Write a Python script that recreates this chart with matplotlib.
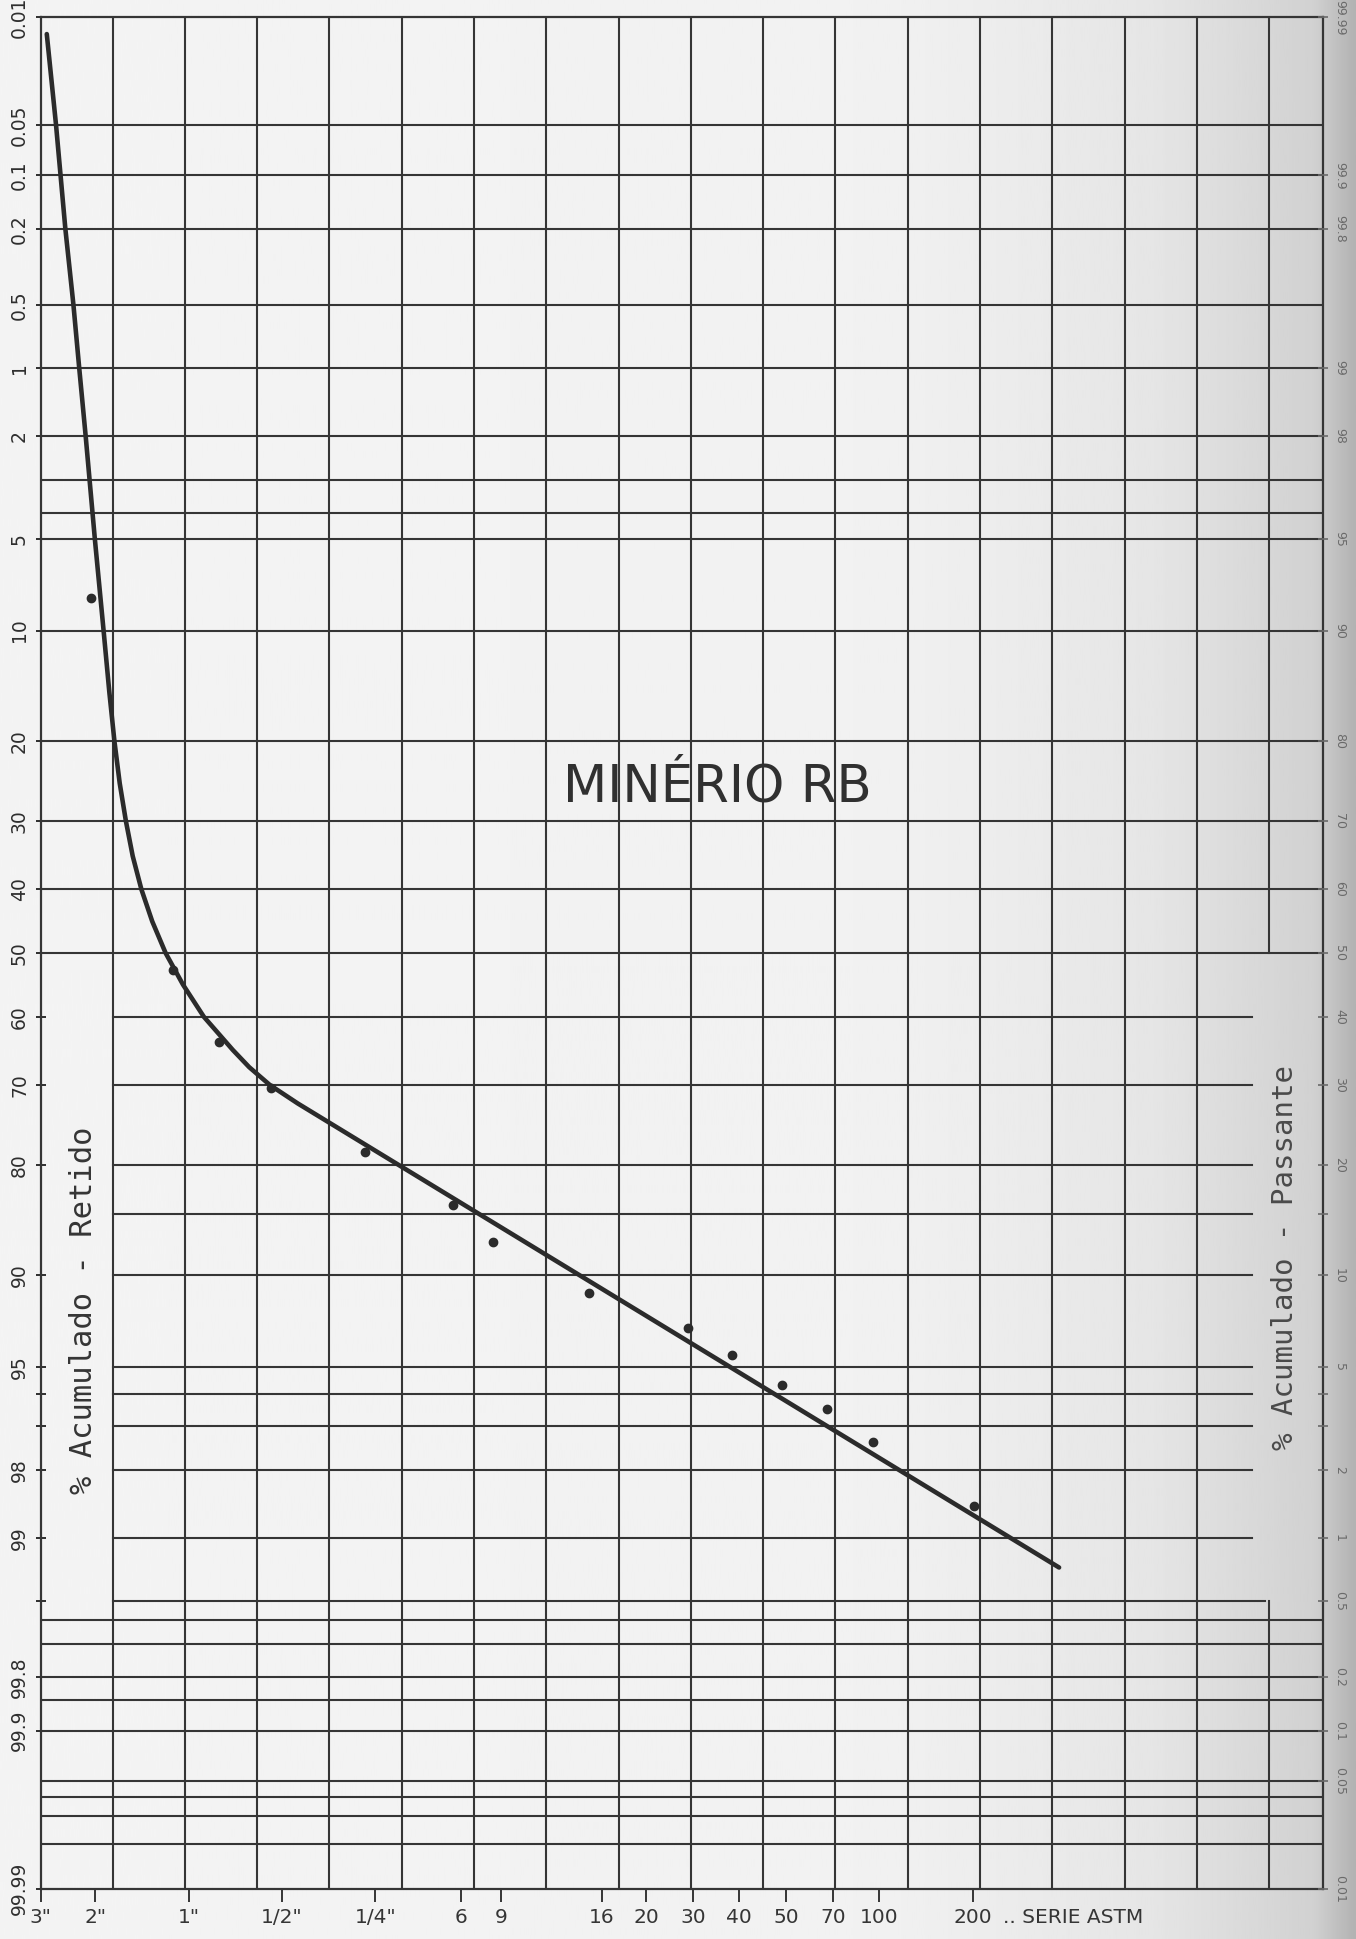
import numpy as np
import matplotlib
matplotlib.use('Agg')
import matplotlib.pyplot as plt
import matplotlib.transforms as mtransforms
from matplotlib.ticker import FixedLocator, NullLocator
from statistics import NormalDist

plt.rcParams['font.family'] = ['DejaVu Sans']
cor = '#353535'
normal = NormalDist()

# ---- peneiras (abertura em mm) ----
peneiras = ['3"', '2"', '1"', '1/2"', '1/4"', '6', '9', '16', '20', '30', '40', '50', '70', '100', '200']
abertura_mm = [76.2, 50.8, 25.4, 12.7, 6.35, 3.35, 2.5, 1.18, 0.85, 0.6, 0.425, 0.3, 0.212, 0.15, 0.075]

# ---- pontos do ensaio (% acumulado retido) ----
pontos_mm = [52.3, 28.6, 20.3, 13.8, 6.83, 3.56, 2.64, 1.30, 0.623, 0.447, 0.310, 0.221, 0.157, 0.0745]
pontos_retido = [7.9, 52.7, 63.8, 70.4, 78.6, 84.2, 87.5, 91.2, 93.2, 94.5, 95.7, 96.5, 97.4, 98.6]

# ---- curva tracada ----
curva_mm = [72.9, 68.05, 63.5, 59.8, 57.3, 54.6, 51.0, 47.8, 45.8, 44.1, 42.4, 40.5, 38.5, 36.1,
            33.3, 30.15, 26.5, 22.7, 18.3, 16.2, 13.9, 11.3, 0.0395]
curva_retido = [0.013, 0.05, 0.2, 0.5, 1, 2, 5, 10, 15, 20, 25, 30, 35, 40,
                45, 50, 55, 60, 65, 67.5, 70, 72.5, 99.27]

# ---- papel de probabilidade ----
rotulos_retido = [0.01, 0.05, 0.1, 0.2, 0.5, 1, 2, 5, 10, 20, 30, 40, 50, 60, 70, 80, 90, 95, 98, 99, 99.8, 99.9, 99.99]
textos_retido = ['0.01', '0.05', '0.1', '0.2', '0.5', '1', '2', '5', '10', '20', '30', '40', '50',
                 '60', '70', '80', '90', '95', '98', '99', '99.8', '99.9', '99.99']
rotulos_passante = [0.01, 0.1, 0.2, 1, 2, 5, 10, 20, 30, 40, 50, 60, 70, 80, 90, 95, 98, 99, 99.5, 99.8, 99.9, 99.95, 99.99]
textos_passante = ['99.99', '99.9', '99.8', '99', '98', '95', '90', '80', '70', '60', '50', '40', '30',
                   '20', '10', '5', '2', '1', '0.5', '0.2', '0.1', '0.05', '0.01']
linhas_sup = [0.05, 0.1, 0.2, 0.5, 1, 2, 3, 4, 5, 10, 20, 30, 40, 50]
linhas_meio = [60, 70, 80, 85, 90, 95, 96, 97, 98, 99]
linhas_inf = [99.6, 99.7, 99.8, 99.85, 99.9, 99.95, 99.96, 99.97, 99.98]


def prob_fwd(p):
    p = np.clip(np.asarray(p, dtype=float), 1e-7, 100 - 1e-7)
    return np.array([normal.inv_cdf(v / 100.0) for v in p.ravel()]).reshape(p.shape)


def prob_inv(z):
    z = np.asarray(z, dtype=float)
    return np.array([normal.cdf(v) * 100.0 for v in z.ravel()]).reshape(z.shape)


fig = plt.figure(figsize=(13.56, 19.39), dpi=100)
fig.patch.set_facecolor('#f2f2f0')

# sombra do scanner na borda direita
bg = fig.add_axes([0, 0, 1, 1], zorder=-10)
xs = np.linspace(0, 1, 600)
tom = np.interp(xs, [0, 0.65, 0.85, 0.97, 1.0], [0.955, 0.945, 0.90, 0.82, 0.70])
bg.imshow(tom[np.newaxis, :], extent=[0, 1, 0, 1], aspect='auto', cmap='gray', vmin=0, vmax=1)
bg.axis('off')

ax = fig.add_axes([0.0301, 0.0259, 0.9452, 0.9652])
ax.set_facecolor('none')
ax.set_xscale('log')
ax.set_xlim(76.2, 0.00558)
ax.set_yscale('function', functions=(prob_fwd, prob_inv))
ax.set_ylim(99.99, 0.01)

lw_grade = 1.5
blend = mtransforms.blended_transform_factory(ax.transAxes, ax.transData)

# linhas verticais do papel
x0, passo = 0.056, 0.0564
for k in range(17):
    f = x0 + k * passo
    if k == 16:
        ax.plot([f, f], [0.01, 50], transform=blend, color=cor, lw=lw_grade)
        ax.plot([f, f], [99.5, 99.99], transform=blend, color=cor, lw=lw_grade)
    else:
        ax.plot([f, f], [0, 1], transform=ax.transAxes, color=cor, lw=lw_grade)

# linhas horizontais
for v in linhas_sup + linhas_inf:
    ax.axhline(v, 0, 1, color=cor, lw=lw_grade)
for v in linhas_meio:
    ax.axhline(v, x0, 0.945, color=cor, lw=lw_grade)
ax.axhline(99.5, x0, 0.955, color=cor, lw=lw_grade)

# curva e pontos
ax.plot(curva_mm, curva_retido, color='#2b2b2b', lw=3.3, solid_capstyle='round', solid_joinstyle='round')
ax.plot(pontos_mm, pontos_retido, 'o', ms=6, color='#2b2b2b')

for s in ax.spines.values():
    s.set_color(cor)
    s.set_linewidth(1.6)

# eixo x: peneiras
ax.set_xticks(abertura_mm)
ax.set_xticklabels(peneiras)
ax.xaxis.set_minor_locator(NullLocator())
ax.tick_params(axis='x', which='major', direction='out', length=9, width=1.4, pad=5,
               labelsize=14.5, colors=cor)
ax.annotate('.. SERIE ASTM', xy=(abertura_mm[-1], 0), xycoords=ax.get_xaxis_transform(),
            xytext=(22, -14), textcoords='offset points', ha='left', va='top',
            fontsize=14.5, color=cor)

# eixo y esquerdo: retido
ax.set_yticks(rotulos_retido)
ax.set_yticklabels(textos_retido, rotation=90, va='center')
ax.yaxis.set_minor_locator(FixedLocator([96, 97, 99.5]))
ax.tick_params(axis='y', which='both', direction='inout', length=7, width=1.4, pad=5,
               labelsize=13.5, colors='#2e2e2e')

# eixo y direito: passante
ax2 = ax.twinx()
ax2.set_yscale('function', functions=(prob_fwd, prob_inv))
ax2.set_ylim(99.99, 0.01)
ax2.set_yticks(rotulos_passante)
ax2.set_yticklabels(textos_passante, rotation=270, va='center')
ax2.yaxis.set_minor_locator(FixedLocator([85, 96, 97]))
ax2.tick_params(axis='y', which='both', direction='inout', length=7, width=1.2, pad=4,
                labelsize=9, colors='#6a6a6a')
for s in ax2.spines.values():
    s.set_visible(False)

# textos
ax.text(0.033, 0.309, '% Acumulado - Retido', transform=ax.transAxes, rotation=90,
        ha='center', va='center', fontsize=22, family='DejaVu Sans Mono', color=cor)
ax.text(0.971, 0.3375, '% Acumulado - Passante', transform=ax.transAxes, rotation=90,
        ha='center', va='center', fontsize=21, family='DejaVu Sans Mono', color='#4a4a4a')
ax.text(0.528, 0.5887, 'MINÉRIO RB', transform=ax.transAxes, ha='center', va='center',
        fontsize=37, color='#303030')

fig.savefig('out.png', dpi=100, facecolor=fig.get_facecolor())
